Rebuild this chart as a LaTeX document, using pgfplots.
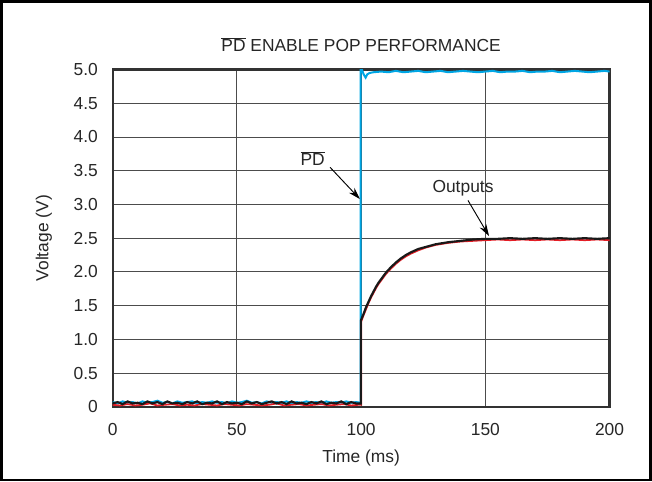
\documentclass[border=0pt]{standalone}
\usepackage{fontspec}
\setmainfont{Liberation Sans}
\usepackage{pgfplots}
\pgfplotsset{compat=1.18}
\usetikzlibrary{arrows.meta}
\definecolor{pdblue}{RGB}{0,166,228}
\definecolor{outred}{RGB}{228,30,38}
\definecolor{framegray}{RGB}{50,50,50}
\begin{document}
\begin{tikzpicture}[font=\fontsize{13}{15}\selectfont]
\begin{axis}[name=ax, scale only axis, width=371.25pt, height=252pt,
  xmin=0, xmax=200, ymin=0, ymax=5,
  xtick={0,50,100,150,200}, xticklabels={0,50,100,150,200},
  ytick={0,0.5,1,1.5,2,2.5,3,3.5,4,4.5,5},
  yticklabels={0,0.5,1.0,1.5,2.0,2.5,3.0,3.5,4.0,4.5,5.0},
  grid=major, major grid style={black!70, line width=0.7pt},
  axis line style={framegray, line width=1.7pt},
  major tick length=0pt,
  yticklabel style={xshift=-7.5pt},
  xticklabel style={yshift=-9pt},
  tick label style={font=\fontsize{13}{15}\selectfont, text=black!85},
]
% PD (blue)
\addplot[pdblue, line width=1.5pt] coordinates {
(0,0.07)(2,0.05)(4,0.08)(6,0.06)(8,0.07)(10,0.05)(12,0.08)(14,0.06)(16,0.07)(18,0.09)
(20,0.06)(22,0.07)(24,0.05)(26,0.08)(28,0.06)(30,0.07)(32,0.08)(34,0.05)(36,0.07)(38,0.06)
(40,0.08)(42,0.06)(44,0.07)(46,0.05)(48,0.08)(50,0.06)(52,0.07)(54,0.09)(56,0.06)(58,0.07)
(60,0.05)(62,0.08)(64,0.06)(66,0.07)(68,0.06)(70,0.08)(72,0.05)(74,0.07)(76,0.06)(78,0.08)
(80,0.06)(82,0.07)(84,0.05)(86,0.08)(88,0.06)(90,0.07)(92,0.06)(94,0.08)(96,0.06)(98,0.07)
(99.8,0.06)(99.8,4.99)(100.4,4.99)(101,4.93)(101.8,4.88)(102.5,4.93)(103.5,4.95)(105,4.96)
(108,4.97)(111,4.96)(114,4.98)(117,4.96)(120,4.97)(123,4.98)(126,4.96)(129,4.97)(132,4.98)
(135,4.96)(138,4.97)(141,4.98)(144,4.97)(147,4.96)(150,4.97)(153,4.98)(156,4.96)(159,4.97)
(162,4.97)(165,4.98)(168,4.96)(171,4.97)(174,4.97)(177,4.98)(180,4.96)(183,4.97)(186,4.98)
(189,4.97)(192,4.96)(195,4.97)(198,4.98)(200,4.97)
};
% Output (red)
\addplot[outred, line width=1.3pt] coordinates {
(0,0.03)(3,0.02)(6,0.04)(9,0.02)(12,0.03)(15,0.05)(18,0.02)(21,0.03)(24,0.04)(27,0.02)
(30,0.03)(33,0.02)(36,0.04)(39,0.03)(42,0.02)(45,0.04)(48,0.03)(51,0.02)(54,0.04)(57,0.03)
(60,0.02)(63,0.03)(66,0.05)(69,0.02)(72,0.03)(75,0.04)(78,0.02)(81,0.03)(84,0.04)(87,0.02)
(90,0.03)(93,0.04)(96,0.02)(99,0.03)(100,0.03)(100,1.26)(101,1.36)(102,1.45)(103,1.54)
(104,1.62)(105,1.69)(106,1.76)(107,1.82)(108,1.87)(110,1.97)(112,2.05)(114,2.12)(116,2.18)
(118,2.23)(120,2.27)(123,2.32)(126,2.36)(130,2.40)(135,2.43)(140,2.45)(145,2.46)(150,2.47)
(155,2.48)(160,2.47)(165,2.48)(170,2.47)(175,2.48)(180,2.47)(185,2.48)(190,2.47)(195,2.48)(200,2.47)
};
% Output (black)
\addplot[black!90, line width=1.6pt] coordinates {
(0,0.05)(2,0.07)(4,0.04)(6,0.08)(8,0.05)(10,0.06)(12,0.04)(14,0.08)(16,0.05)(18,0.07)
(20,0.04)(22,0.08)(24,0.05)(26,0.06)(28,0.04)(30,0.07)(32,0.05)(34,0.08)(36,0.04)(38,0.06)
(40,0.05)(42,0.08)(44,0.04)(46,0.07)(48,0.05)(50,0.06)(52,0.04)(54,0.08)(56,0.05)(58,0.07)
(60,0.04)(62,0.06)(64,0.08)(66,0.05)(68,0.07)(70,0.04)(72,0.08)(74,0.05)(76,0.06)(78,0.04)
(80,0.07)(82,0.05)(84,0.08)(86,0.04)(88,0.06)(90,0.05)(92,0.08)(94,0.04)(96,0.07)(98,0.05)
(99.9,0.05)(99.9,1.28)(101,1.38)(102,1.48)(103,1.56)(104,1.64)(105,1.71)(106,1.78)
(107,1.84)(108,1.89)(110,1.99)(112,2.07)(114,2.14)(116,2.20)(118,2.25)(120,2.29)(123,2.34)
(126,2.37)(130,2.41)(135,2.44)(140,2.46)(145,2.48)(150,2.49)(155,2.49)(160,2.50)(165,2.49)
(170,2.50)(175,2.49)(180,2.50)(185,2.49)(190,2.50)(195,2.49)(200,2.50)
};
% annotations
\node[anchor=center, text=black!85] at (axis cs:80.5,3.68) {$\overline{\hbox{PD}}$};
\draw[-{Stealth[length=9pt,width=5.5pt]}, line width=0.7pt] (axis cs:87.5,3.55) -- (axis cs:99.5,3.08);
\node[anchor=center, text=black!85] at (axis cs:141,3.24) {Outputs};
\draw[-{Stealth[length=9pt,width=5.5pt]}, line width=0.7pt] (axis cs:143,3.06) -- (axis cs:151.5,2.53);
\end{axis}
\node[text=black!85] at ([yshift=18.75pt]ax.north) {$\overline{\hbox{PD}}$ ENABLE POP PERFORMANCE};
\node[rotate=90, text=black!85] at ([xshift=-51.5pt]ax.west) {Voltage (V)};
\node[text=black!85] at ([yshift=-38.5pt]ax.south) {Time (ms)};
\draw[line width=1.9pt] ([xshift=-83.25pt,yshift=-54.75pt]ax.south west) rectangle ([xshift=30.75pt,yshift=51pt]ax.north east);
\end{tikzpicture}
\end{document}
